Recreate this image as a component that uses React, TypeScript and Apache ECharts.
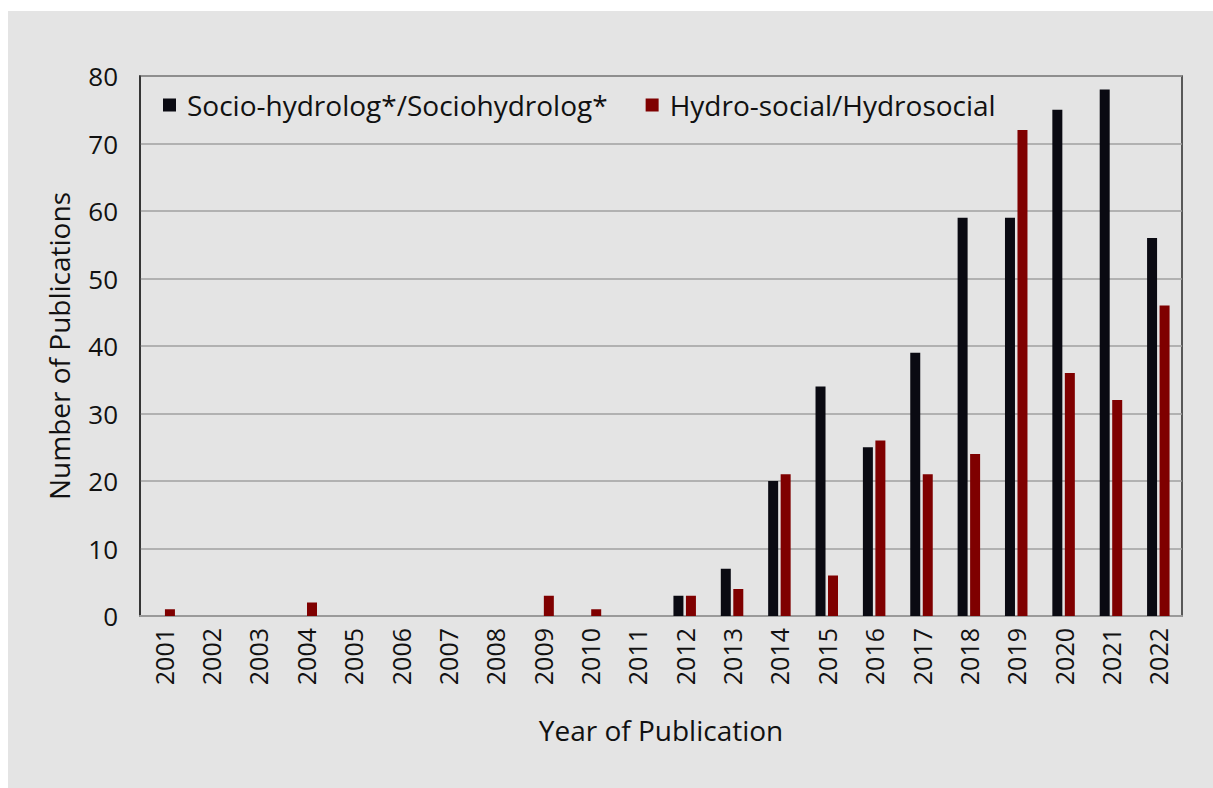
import React, { useEffect, useRef } from "react";
import * as echarts from "echarts";

const years = ["2001","2002","2003","2004","2005","2006","2007","2008","2009","2010","2011","2012","2013","2014","2015","2016","2017","2018","2019","2020","2021","2022"];
const socioHydrology = [0,0,0,0,0,0,0,0,0,0,0,3,7,20,34,25,39,59,59,75,78,56];
const hydroSocial = [1,0,0,2,0,0,0,0,3,1,0,3,4,21,6,26,21,24,72,36,32,46];
const yTicks = { min: 0, max: 80, interval: 10 };

const FONT = "'Open Sans', 'Noto Sans', sans-serif";

export default function App() {
  const ref = useRef<HTMLDivElement>(null);
  useEffect(() => {
    if (!ref.current) return;
    const chart = echarts.init(ref.current, undefined, { renderer: "svg" });
    chart.setOption({
      animation: false,
      backgroundColor: "#e4e4e4",
      textStyle: { fontFamily: FONT },
      grid: {
        left: 132, top: 65, right: 31, bottom: 172,
        show: true, borderColor: "#2a2a2a", borderWidth: 1.5, backgroundColor: "transparent",
      },
      legend: {
        left: 150, top: 75,
        icon: "rect", itemWidth: 13, itemHeight: 13, itemGap: 38,
        textStyle: { fontSize: 28, color: "#111", fontFamily: FONT, padding: [0, 0, 0, 6] },
        data: ["Socio-hydrolog*/Sociohydrolog*", "Hydro-social/Hydrosocial"],
      },
      xAxis: {
        type: "category", data: years,
        name: "Year of Publication", nameLocation: "middle", nameGap: 100,
        nameTextStyle: { fontSize: 28, color: "#111", fontFamily: FONT },
        axisLine: { show: true, lineStyle: { color: "#9a9a9a", width: 2 } },
        axisTick: { show: false },
        axisLabel: { rotate: 90, fontSize: 25, color: "#111", margin: 12, fontFamily: FONT },
      },
      yAxis: {
        type: "value", min: yTicks.min, max: yTicks.max, interval: yTicks.interval,
        name: "Number of Publications", nameLocation: "middle", nameGap: 67,
        nameTextStyle: { fontSize: 28, color: "#111", fontFamily: FONT },
        axisLine: { show: true, lineStyle: { color: "#2a2a2a", width: 1.5 } },
        axisTick: { show: false },
        axisLabel: { fontSize: 26, color: "#111", margin: 22, fontFamily: FONT },
        splitLine: { show: true, lineStyle: { color: "#a0a0a0", width: 1.5 } },
      },
      series: [
        { name: "Socio-hydrolog*/Sociohydrolog*", type: "bar", data: socioHydrology, barWidth: 10, barGap: "25%", itemStyle: { color: "#0a0a12" } },
        { name: "Hydro-social/Hydrosocial", type: "bar", data: hydroSocial, barWidth: 10, itemStyle: { color: "#7f0000" } },
      ],
    });
    return () => chart.dispose();
  }, []);
  return <div ref={ref} style={{ position: "absolute", left: 8, top: 11, width: 1205, height: 777 }} />;
}
